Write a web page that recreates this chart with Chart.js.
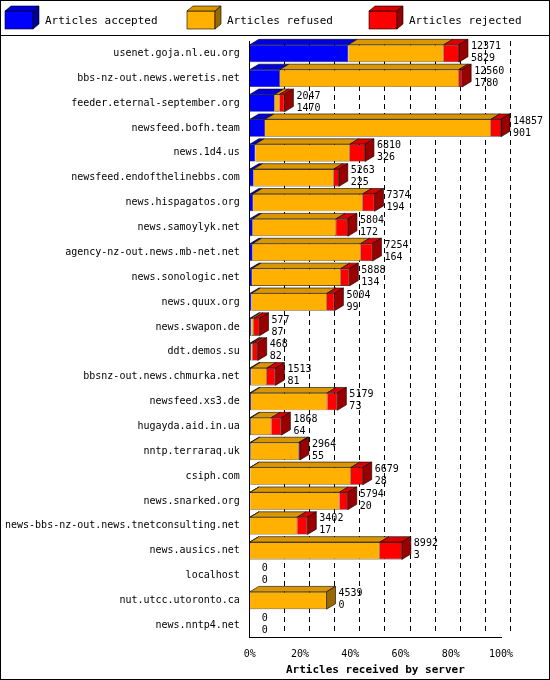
<!DOCTYPE html>
<html>
<head>
<meta charset="utf-8">
<script src="https://cdn.jsdelivr.net/npm/chart.js@4"></script>
<style>
  body { margin: 0; background: #fff; }
  #wrap { width: 548px; height: 678px; border: 1px solid #000; }
</style>
</head>
<body>
<div id="wrap"><canvas id="chart" width="548" height="678"></canvas></div>
<script>
const servers = ['usenet.goja.nl.eu.org', 'bbs-nz-out.news.weretis.net', 'feeder.eternal-september.org',
  'newsfeed.bofh.team', 'news.1d4.us', 'newsfeed.endofthelinebbs.com', 'news.hispagatos.org',
  'news.samoylyk.net', 'agency-nz-out.news.mb-net.net', 'news.sonologic.net', 'news.quux.org',
  'news.swapon.de', 'ddt.demos.su', 'bbsnz-out.news.chmurka.net', 'newsfeed.xs3.de',
  'hugayda.aid.in.ua', 'nntp.terraraq.uk', 'csiph.com', 'news.snarked.org',
  'news-bbs-nz-out.news.tnetconsulting.net', 'news.ausics.net', 'localhost', 'nut.utcc.utoronto.ca', 'news.nntp4.net'];
const offered  = [12371, 12560, 2047, 14857, 6810, 5263, 7374, 5804, 7254, 5888, 5004, 577, 468, 1513, 5179, 1868, 2964, 6679, 5794, 3402, 8992, 0, 4539, 0];
const accepted = [5829, 1780, 1470, 901, 326, 225, 194, 172, 164, 134, 99, 87, 82, 81, 73, 64, 55, 28, 20, 17, 3, 0, 0, 0];
// estimated from the red segment widths
const rejected = [900, 200, 300, 600, 900, 300, 700, 700, 700, 500, 450, 330, 280, 500, 600, 600, 80, 700, 500, 600, 1300, 0, 0, 0];
const legendLabels = ['Articles accepted', 'Articles refused', 'Articles rejected'];
const colors = ['#0000ff', '#ffb000', '#ff0000'];

const maxTotal = Math.max(...offered);
const pct = v => v / maxTotal * 100;
const accPct = accepted.map(pct);
const rejPct = rejected.map(pct);
const refPct = offered.map((t, i) => Math.max(0, pct(t) - accPct[i] - rejPct[i]));

const D = 9;
const shade = (hex, f) => {
  const n = parseInt(hex.slice(1), 16);
  const c = [n >> 16, (n >> 8) & 255, n & 255].map(v => Math.min(255, Math.round(v * f)));
  return `rgb(${c.join(',')})`;
};

const box3d = (ctx, x, y, w, h, col) => {
  ctx.strokeStyle = '#000';
  ctx.lineWidth = 0.6;
  ctx.fillStyle = col;
  ctx.fillRect(x, y, w, h); ctx.strokeRect(x, y, w, h);
  ctx.fillStyle = shade(col, 0.85);
  ctx.beginPath(); ctx.moveTo(x, y); ctx.lineTo(x + w, y); ctx.lineTo(x + w + 6, y - 5); ctx.lineTo(x + 6, y - 5); ctx.closePath(); ctx.fill(); ctx.stroke();
  ctx.fillStyle = shade(col, 0.6);
  ctx.beginPath(); ctx.moveTo(x + w, y); ctx.lineTo(x + w + 6, y - 5); ctx.lineTo(x + w + 6, y + h - 5); ctx.lineTo(x + w, y + h); ctx.closePath(); ctx.fill(); ctx.stroke();
};

const bars3d = {
  id: 'bars3d',
  beforeDatasetsDraw(chart) {
    const ctx = chart.ctx, xs = chart.scales.x, a = chart.chartArea;
    ctx.save();
    ctx.strokeStyle = '#000';
    ctx.lineWidth = 1;
    ctx.setLineDash([5, 4]);
    for (let v = 10; v <= 100; v += 10) {
      const x = Math.round(xs.getPixelForValue(v)) + 0.5;
      ctx.beginPath(); ctx.moveTo(x + D, a.top); ctx.lineTo(x + D, a.bottom - D * 0.6); ctx.stroke();
    }
    ctx.restore();
  },
  afterDatasetsDraw(chart) {
    const ctx = chart.ctx;
    const sets = chart.data.datasets;
    servers.forEach((s, i) => {
      let last = null;
      sets.forEach((ds, d) => {
        const el = chart.getDatasetMeta(d).data[i];
        if (!el || ds.data[i] <= 0) return;
        const x0 = Math.min(el.base, el.x), x1 = Math.max(el.base, el.x);
        const y0 = el.y - el.height / 2;
        ctx.fillStyle = shade(ds.backgroundColor, 0.85);
        ctx.strokeStyle = '#000';
        ctx.lineWidth = 0.6;
        ctx.beginPath();
        ctx.moveTo(x0, y0); ctx.lineTo(x1, y0); ctx.lineTo(x1 + D, y0 - D * 0.6); ctx.lineTo(x0 + D, y0 - D * 0.6);
        ctx.closePath(); ctx.fill(); ctx.stroke();
        last = { el, ds, x1, y0 };
      });
      if (last) {
        const { el, ds, x1, y0 } = last;
        const y1 = y0 + el.height;
        ctx.fillStyle = shade(ds.backgroundColor, 0.6);
        ctx.beginPath();
        ctx.moveTo(x1, y0); ctx.lineTo(x1 + D, y0 - D * 0.6); ctx.lineTo(x1 + D, y1 - D * 0.6); ctx.lineTo(x1, y1);
        ctx.closePath(); ctx.fill(); ctx.stroke();
      }
      const el0 = chart.getDatasetMeta(0).data[i];
      const xEnd = chart.scales.x.getPixelForValue(pct(offered[i])) + D + 3;
      ctx.fillStyle = '#000';
      ctx.font = '10px "DejaVu Sans Mono"';
      ctx.textAlign = 'left';
      ctx.textBaseline = 'middle';
      ctx.fillText(String(offered[i]), xEnd, el0.y - 7);
      ctx.fillText(String(accepted[i]), xEnd, el0.y + 5);
    });
    // legend
    legendLabels.forEach((t, k) => {
      const x = 4 + k * 182;
      box3d(ctx, x, 10, 28, 18, colors[k]);
      ctx.fillStyle = '#000';
      ctx.font = '11px "DejaVu Sans Mono"';
      ctx.fillText(t, x + 40, 20);
    });
    ctx.strokeStyle = '#000';
    ctx.lineWidth = 1;
    ctx.beginPath(); ctx.moveTo(0, 34.5); ctx.lineTo(548, 34.5); ctx.stroke();
  }
};

new Chart(document.getElementById('chart'), {
  type: 'bar',
  data: {
    labels: servers,
    datasets: legendLabels.map((l, k) => ({
      label: l, data: [accPct, refPct, rejPct][k], backgroundColor: colors[k],
      borderColor: '#000', borderWidth: 0.6, barPercentage: 0.7, categoryPercentage: 1
    }))
  },
  options: {
    indexAxis: 'y',
    responsive: false,
    animation: false,
    layout: { padding: { left: 2, right: 48, top: 40, bottom: 2 } },
    plugins: { tooltip: { enabled: false }, legend: { display: false } },
    scales: {
      x: {
        stacked: true, min: 0, max: 100,
        ticks: { stepSize: 10, maxRotation: 0, callback: v => v + '%', color: '#000', font: { family: 'DejaVu Sans Mono', size: 10 } },
        grid: { display: false },
        border: { color: '#000' },
        title: { display: true, text: 'Articles received by server', color: '#000',
          font: { family: 'DejaVu Sans Mono', size: 11, weight: 'bold' }, padding: 0 }
      },
      y: {
        stacked: true,
        ticks: { color: '#000', padding: 2, font: { family: 'DejaVu Sans Mono', size: 10 }, autoSkip: false },
        grid: { display: false },
        border: { color: '#000' }
      }
    }
  },
  plugins: [bars3d]
});
</script>
</body>
</html>
